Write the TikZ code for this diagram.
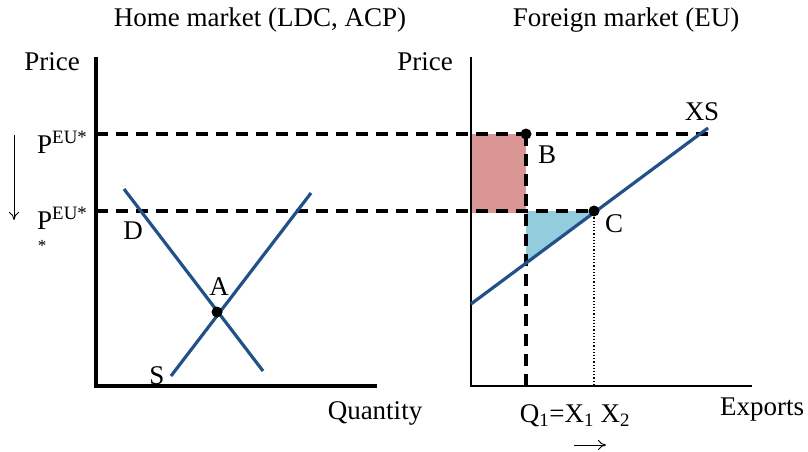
\documentclass[tikz,border=0pt]{standalone}
\usepackage{fontspec}
\setmainfont{Liberation Serif}
\usetikzlibrary{arrows.meta}
\definecolor{curveblue}{HTML}{22518A}
\definecolor{gainred}{HTML}{D99694}
\definecolor{lossblue}{HTML}{93CDDD}
\begin{document}
\begin{tikzpicture}[x=1pt,y=-1pt,
  lbl/.style={inner sep=0pt,font=\fontsize{27}{31}\selectfont},
  axis/.style={line width=3.4pt},
  curve/.style={line width=3.2pt,draw=curveblue},
  guide/.style={line width=3.2pt,dash pattern=on 12pt off 8pt},
  dot/.style={circle,fill=black,inner sep=0pt,minimum size=11pt},
  pointer/.style={-{To[length=8pt,width=10pt]},line width=0.9pt}
]
\useasboundingbox (0,0) rectangle (808,452);
% axes
\coordinate (homeTop) at (96,57);
\coordinate (homeO) at (96,386);
\coordinate (homeEnd) at (377,386);
\coordinate (euTop) at (471,57);
\coordinate (euO) at (471,386);
\coordinate (euEnd) at (752,386);
% points
\coordinate (A) at (217,312);
\coordinate (B) at (526,134);
\coordinate (C) at (594,211);
\coordinate (topLeft) at (96,134);
\coordinate (topRight) at (708,134);
\coordinate (lowLeft) at (96,211);
\coordinate (lowMid) at (526,211);
\coordinate (Bfoot) at (526,386);
\coordinate (Cfoot) at (594,386);
\coordinate (Dstart) at (124,189);
\coordinate (Dend) at (263,371);
\coordinate (Sstart) at (171,376);
\coordinate (Send) at (311,193);
\coordinate (XSstart) at (471,304);
\coordinate (XSend) at (708,128);
\coordinate (XSmid) at (526,263);
% areas
\fill[gainred] (472,134) rectangle (526,213);
\fill[lossblue] (lowMid) -- (C) -- (XSmid) -- cycle;
\draw[axis] (homeTop) -- (homeO) -- (homeEnd);
\draw[axis,line width=2.6pt] (euTop) -- (euO) -- (euEnd);
\draw[guide] (topLeft) -- (topRight);
\draw[guide] (lowLeft) -- (C);
\draw[guide] (B) -- (Bfoot);
\draw[line width=1.2pt,dotted] (C) -- (Cfoot);
\draw[curve] (Dstart) -- (Dend);
\draw[curve] (Sstart) -- (Send);
\draw[curve] (XSstart) -- (XSend);
\node[dot] (dotA) at (A) {};
\node[dot] (dotB) at (B) {};
\node[dot] (dotC) at (C) {};
% labels
\node[lbl] (homeTitle) at (260,20) {Home market (LDC, ACP)};
\node[lbl] (euTitle) at (626,20) {Foreign market (EU)};
\node[lbl] (homePrice) at (52,62) {Price};
\node[lbl] (euPrice) at (425,62) {Price};
\node[lbl] (quantity) at (375,413) {Quantity};
\node[lbl] (exports) at (762,410) {Exports};
\node[lbl,anchor=base west] (pTop) at (37,153) {P\textsuperscript{EU*}};
\node[lbl,anchor=base west] (pLow) at (37,229) {P\textsuperscript{EU*}};
\node[lbl,font=\fontsize{17}{20}\selectfont] (pStar) at (42,246) {*};
\node[lbl] (labD) at (133,231) {D};
\node[lbl] (labS) at (157,376) {S};
\node[lbl] (labA) at (219,287) {A};
\node[lbl] (labB) at (547,155) {B};
\node[lbl] (labC) at (614,224) {C};
\node[lbl] (labXS) at (702,112) {XS};
\node[lbl] (quota) at (575,416) {Q\textsubscript{1}=X\textsubscript{1} X\textsubscript{2}};
\coordinate (dropTop) at (14,135);
\coordinate (dropEnd) at (14,220);
\coordinate (shiftStart) at (574,445);
\coordinate (shiftEnd) at (606,445);
\draw[pointer] (dropTop) -- (dropEnd);
\draw[pointer] (shiftStart) -- (shiftEnd);
\end{tikzpicture}
\end{document}
